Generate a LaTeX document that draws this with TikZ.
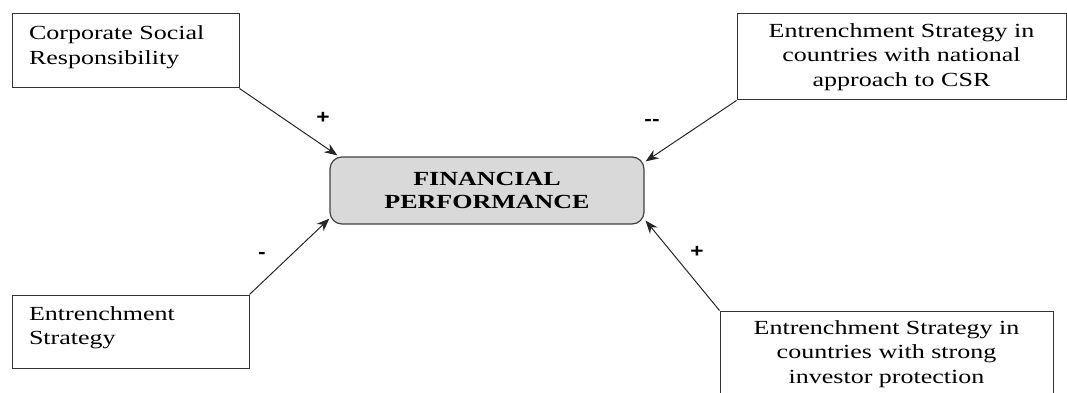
\documentclass[tikz,border=0pt]{standalone}
\usepackage{fontspec}
\setmainfont{Liberation Serif}[FakeStretch=1.3]
\newfontfamily\signfont{Liberation Sans}[FakeStretch=1.2]
\usetikzlibrary{positioning,arrows.meta}

\tikzset{
  factor/.style={draw=black!80, line width=1pt, inner sep=0pt},
  outcome/.style={draw=black!75, line width=1.2pt, fill=black!15,
    rounded corners=12pt, minimum width=314pt, minimum height=67pt,
    align=center, font=\fontsize{20}{23}\selectfont\bfseries},
  sign/.style={font=\signfont\fontsize{19}{19}\selectfont\bfseries},
  link/.style={->, line width=1pt, draw=black!85},
}

\begin{document}
\begin{tikzpicture}[x=1pt,y=-1pt,>={Stealth[length=13pt,width=10pt]},
    font=\fontsize{20}{24.5}\selectfont]
  \useasboundingbox (0,0) rectangle (1067,393);
  \clip (0,0) rectangle (1067,393);

  \node[outcome] (fin) at (487,190.5) {FINANCIAL\\PERFORMANCE};

  \node[factor, minimum width=227pt, minimum height=74pt] (csr) at (125.5,51)
    {\parbox[c][50pt][t]{193pt}{Corporate Social\\Responsibility}};
  \node[factor, minimum width=237pt, minimum height=73pt] (entr) at (130.5,331.5)
    {\parbox[c][50pt][t]{203pt}{Entrenchment\\Strategy}};
  \node[factor, minimum width=329pt, minimum height=86pt, align=center] (natl) at (901.5,57)
    {Entrenchment Strategy in\\countries with national\\approach to CSR};
  \node[factor, minimum width=333pt, minimum height=86pt, align=center] (prot) at (886.5,354)
    {Entrenchment Strategy in\\countries with strong\\investor protection};

  \draw[link] (csr.south east) -- ([xshift=8pt,yshift=1pt]fin.north west);
  \draw[link] (natl.south west) -- ([xshift=1pt,yshift=-5pt]fin.north east);
  \draw[link] (entr.north east) -- ([yshift=6pt]fin.south west);
  \draw[link] (prot.north west) -- ([xshift=1pt,yshift=4pt]fin.south east);

  \node[sign] (s1) at (323,118) {+};
  \node[sign] (s2) at (652,122) {-{}-};
  \node[sign] (s3) at (262,255) {-};
  \node[sign] (s4) at (697,252) {+};
\end{tikzpicture}
\end{document}
